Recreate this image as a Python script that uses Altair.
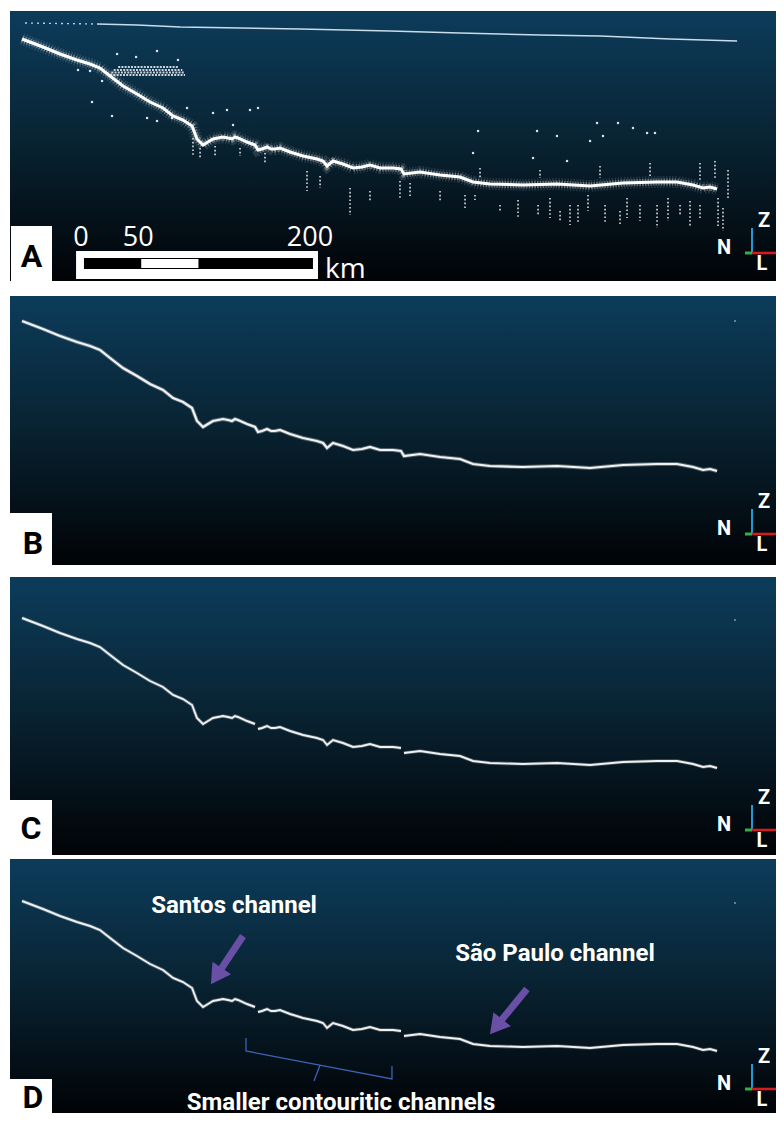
import altair as alt
import pandas as pd

# ---------------- data (distance along profile in km, depth in m) ----------------
PROFILE_KM = [0, 18.3, 33.2, 48.0, 59.4, 68.1, 76.9, 88.2, 100.4, 111.8, 123.1, 131.9, 140.6,
              148.5, 152.8, 158.1, 162.4, 166.8, 171.2, 175.5, 179.9, 183.4, 186.0, 188.6, 196.5, 203.5,
              206.1, 209.6, 214.0, 217.5, 221.0, 225.3, 234.1, 245.4, 257.6, 262.9, 266.4, 271.6,
              280.3, 289.1, 296.9, 303.9, 312.7, 324.0, 331.0,
              333.6, 347.6, 365.1, 382.5, 393.9, 408.7, 437.5, 467.2, 496.1, 524.9, 554.6, 572.1,
              586.0, 594.8, 600.9, 607.0]
PROFILE_DEPTH_M = [340, 500, 640, 760, 840, 920, 1080, 1280, 1440, 1600, 1720, 1880, 1960,
                   2080, 2340, 2460, 2400, 2340, 2320, 2300, 2320, 2340, 2300, 2320, 2400, 2460,
                   2560, 2540, 2500, 2540, 2540, 2520, 2600, 2680, 2740, 2780, 2880, 2780,
                   2840, 2920, 2900, 2860, 2920, 2920, 2940,
                   3040, 3000, 3060, 3100, 3200, 3240, 3260, 3240, 3280, 3220, 3200, 3200,
                   3260, 3320, 3300, 3340]
PROFILE_SEGMENT = [1] * 26 + [2] * 19 + [3] * 16

SURFACE_KM = [2.6, 65.5, 100.4, 138.0, 242.8, 321.4, 382.5, 452.4, 504.8, 566.0, 624.5]
SURFACE_DEPTH_M = [20, 40, 60, 100, 140, 180, 220, 260, 280, 340, 380]

CLUSTER_KM_START = [77.0, 78.0, 80.0, 84.0]
CLUSTER_KM_END = [142.4, 142.0, 140.0, 137.0]
CLUSTER_DEPTH_M = [1060, 1010, 960, 900]

NOISE_KM = [83.0, 99.6, 117.9, 136.2, 48.9, 59.4, 69.9, 61.1, 78.6, 109.2, 117.9, 131.0, 144.1,
            199.1, 206.1, 166.8, 179.0, 184.3, 398.3, 449.8, 502.2, 520.5, 533.6, 545.9, 552.8,
            496.1, 507.4, 467.2, 446.3, 476.0, 393.9]
NOISE_DEPTH_M = [640, 700, 580, 760, 960, 980, 1180, 1600, 1880, 1920, 1980, 1920, 1720,
                 1760, 1720, 1820, 1760, 2060, 2180, 2180, 2020, 2020, 2120, 2220, 2220,
                 2380, 2280, 2280, 2720, 2780, 2620]

STREAK_KM = [149.3, 155.5, 168.6, 190.4, 212.2, 248.9, 260.3, 286.5, 303.9, 330.1, 338.9, 365.1,
             386.9, 395.6, 417.5, 433.2, 450.7, 461.1, 469.9, 478.6, 485.6, 494.3, 509.2, 522.3,
             528.4, 539.7, 554.6, 564.2, 574.7, 583.4, 592.1, 607.9, 612.2, 616.6,
             400.0, 452.4, 504.8, 548.5, 592.1, 605.2]
STREAK_TOP_M = [2320, 2520, 2480, 2520, 2620, 2980, 3080, 3320, 3380, 3180, 3220, 3380,
                3460, 3460, 3660, 3560, 3660, 3520, 3780, 3660, 3660, 3460, 3660, 3780,
                3520, 3660, 3660, 3520, 3660, 3580, 3660, 3520, 3720, 2960,
                2920, 2960, 2880, 2820, 2820, 2780]
STREAK_BOTTOM_M = [2660, 2720, 2680, 2680, 2820, 3380, 3320, 3860, 3580, 3520, 3480, 3580,
                   3720, 3560, 3780, 3920, 3860, 3920, 3980, 4060, 4020, 3780, 4020, 4080,
                   3920, 3980, 4120, 3980, 3860, 4080, 3920, 4080, 4180, 3520,
                   3120, 3120, 3120, 3120, 3160, 3160]

SCALE_START_KM = 54.1
SCALE_TICKS_KM = [0, 50, 200]
SCALE_OUTER_KM = [47.2, 258.5]
SCALE_UNIT_KM = 264.6

DOT_KM = 622.7
DOT_DEPTH_M = [None, 340, 380, 380]

LABELS_TEXT = ["Santos channel", "São Paulo channel", "Smaller contouritic channels"]
LABELS_KM = [185.2, 465.5, 278.6]
LABELS_DEPTH_M = [440, 1400, 4380]
ARROW_TAIL_KM = [193.0, 441.0]
ARROW_TAIL_M = [1040, 2100]
ARROW_HEAD_KM = [169.7, 414.0]
ARROW_HEAD_M = [1842, 2854]
ARROW_ANGLE = [214, 219]
BRACKET_KM = [195.6, 195.6, 323.1, 323.1]
BRACKET_M = [3080, 3340, 3900, 3640]
BRACKET_TICK_KM = [260.3, 255.0]
BRACKET_TICK_M = [3620, 3940]

PANEL_LETTERS = ["A", "B", "C", "D"]

# ---------------- layout / style ----------------
W = 766
X_DOMAIN = [-10.5, 658.5]
PANEL_HEIGHT = [270, 277, 286, 254]
PANEL_DEPTH_TOP = [-220, -320, -640, -500]
PANEL_DEPTH_BOTTOM = [5180, 5220, 5080, 4580]
BG_TOP = [0, 8, 8, 0]
BOX_TOP = [215, 225, 231, 220]
LETTER_X = [21.5, 23, 21, 23]
LETTER_BASE = [256, 266, 270, 249]
GLYPH_X = 742
GLYPH_CORNER = [242, 246, 261, 230]

BOLD_FONT = "Roboto"
BG_GRADIENT = {
    "gradient": "linear", "x1": 0, "y1": 0, "x2": 0, "y2": 1,
    "stops": [
        {"offset": 0, "color": "#0c3c5b"},
        {"offset": 0.45, "color": "#092535"},
        {"offset": 1, "color": "#010306"},
    ],
}
PURPLE = "#6a4fa6"

ONE = pd.DataFrame({"k": [0]})
profile = pd.DataFrame({"km": PROFILE_KM, "depth": PROFILE_DEPTH_M, "seg": PROFILE_SEGMENT})


def X(field="km"):
    return alt.X(f"{field}:Q", scale=alt.Scale(domain=X_DOMAIN, nice=False, zero=False), axis=None)


def Y(i, field="depth"):
    return alt.Y(f"{field}:Q",
                 scale=alt.Scale(domain=[PANEL_DEPTH_TOP[i], PANEL_DEPTH_BOTTOM[i]],
                                 reverse=True, nice=False, zero=False),
                 axis=None)


def panel(i):
    h = PANEL_HEIGHT[i]
    L = []
    L.append(alt.Chart(ONE).mark_rect(fill=BG_GRADIENT).encode(
        x=alt.value(0), x2=alt.value(W), y=alt.value(BG_TOP[i]), y2=alt.value(h)))

    if i == 0:
        surf = pd.DataFrame({"km": SURFACE_KM, "depth": SURFACE_DEPTH_M})
        L.append(alt.Chart(surf.iloc[:2]).mark_line(color="#b8d0e0", strokeWidth=1.4, strokeDash=[2, 4]).encode(x=X(), y=Y(i)))
        L.append(alt.Chart(surf.iloc[1:]).mark_line(color="#c8dce9", strokeWidth=1.6).encode(x=X(), y=Y(i)))
        cl = pd.DataFrame({"km": CLUSTER_KM_START, "km2": CLUSTER_KM_END, "depth": CLUSTER_DEPTH_M})
        L.append(alt.Chart(cl).mark_rule(color="white", strokeWidth=2.0, strokeDash=[2, 1.2], opacity=0.8).encode(
            x=X(), x2=alt.X2("km2:Q"), y=Y(i)))
        L.append(alt.Chart(profile).mark_line(color="white", strokeWidth=12, opacity=0.12, strokeDash=[1.5, 1.5]).encode(x=X(), y=Y(i)))
        L.append(alt.Chart(profile).mark_line(color="white", strokeWidth=7, opacity=0.35, strokeDash=[1.5, 1.2]).encode(x=X(), y=Y(i)))
        L.append(alt.Chart(profile).mark_line(color="white", strokeWidth=3).encode(x=X(), y=Y(i)))
        st = pd.DataFrame({"km": STREAK_KM, "depth": STREAK_TOP_M, "d2": STREAK_BOTTOM_M})
        L.append(alt.Chart(st).mark_rule(color="white", strokeWidth=1.7, strokeDash=[1.6, 2.2], opacity=0.8).encode(
            x=X(), y=Y(i), y2=alt.Y2("d2:Q")))
        nz = pd.DataFrame({"km": NOISE_KM, "depth": NOISE_DEPTH_M})
        L.append(alt.Chart(nz).mark_square(size=5, color="white", opacity=0.85).encode(x=X(), y=Y(i)))
        L.append(alt.Chart(pd.DataFrame({"km": [SCALE_OUTER_KM[0]], "km2": [SCALE_OUTER_KM[1]]})).mark_rect(color="white").encode(
            x=X(), x2=alt.X2("km2:Q"), y=alt.value(240), y2=alt.value(268)))
        L.append(alt.Chart(pd.DataFrame({"km": [SCALE_START_KM], "km2": [SCALE_START_KM + SCALE_TICKS_KM[-1]]})).mark_rect(color="black").encode(
            x=X(), x2=alt.X2("km2:Q"), y=alt.value(247), y2=alt.value(258)))
        L.append(alt.Chart(pd.DataFrame({"km": [SCALE_START_KM + SCALE_TICKS_KM[1]], "km2": [SCALE_START_KM + 2 * SCALE_TICKS_KM[1]]})).mark_rect(color="white").encode(
            x=X(), x2=alt.X2("km2:Q"), y=alt.value(248), y2=alt.value(257)))
        sl = pd.DataFrame({"km": [SCALE_START_KM + v - 2.6 for v in SCALE_TICKS_KM], "lab": [str(v) for v in SCALE_TICKS_KM]})
        L.append(alt.Chart(sl).mark_text(color="white", font="Open Sans", fontSize=27, baseline="alphabetic").encode(
            x=X(), y=alt.value(235), text="lab:N"))
        L.append(alt.Chart(pd.DataFrame({"km": [SCALE_UNIT_KM], "lab": ["km"]})).mark_text(
            color="white", font="Open Sans", fontSize=28, align="left", baseline="alphabetic").encode(
            x=X(), y=alt.value(267), text="lab:N"))
    elif i == 1:
        L.append(alt.Chart(profile).mark_line(color="white", strokeWidth=4, opacity=0.3).encode(x=X(), y=Y(i)))
        L.append(alt.Chart(profile).mark_line(color="#f2f2f2", strokeWidth=2.2).encode(x=X(), y=Y(i)))
    else:
        L.append(alt.Chart(profile).mark_line(color="white", strokeWidth=3.6, opacity=0.25).encode(
            x=X(), y=Y(i), detail="seg:N"))
        L.append(alt.Chart(profile).mark_line(color="#f0f0f0", strokeWidth=1.9).encode(
            x=X(), y=Y(i), detail="seg:N"))

    if DOT_DEPTH_M[i] is not None:
        L.append(alt.Chart(pd.DataFrame({"km": [DOT_KM], "depth": [DOT_DEPTH_M[i]]})).mark_square(
            size=3, color="#cfd8dc").encode(x=X(), y=Y(i)))

    if i == 3:
        ar = pd.DataFrame({"km": ARROW_TAIL_KM + ARROW_HEAD_KM, "depth": ARROW_TAIL_M + ARROW_HEAD_M,
                           "arrow": [0, 1, 0, 1]})
        L.append(alt.Chart(ar).mark_line(color=PURPLE, strokeWidth=7, strokeCap="butt").encode(
            x=X(), y=Y(i), detail="arrow:N"))
        for k in range(2):
            L.append(alt.Chart(pd.DataFrame({"km": [ARROW_HEAD_KM[k]], "depth": [ARROW_HEAD_M[k]]})).mark_point(
                shape="triangle-up", size=500, filled=True, color=PURPLE, opacity=1,
                angle=ARROW_ANGLE[k]).encode(x=X(), y=Y(i)))
        br = pd.DataFrame({"km": BRACKET_KM, "depth": BRACKET_M, "o": [0, 1, 2, 3]})
        L.append(alt.Chart(br).mark_line(color="#3d62b8", strokeWidth=1.3).encode(
            x=X(), y=Y(i), order="o:Q"))
        tk = pd.DataFrame({"km": BRACKET_TICK_KM, "depth": BRACKET_TICK_M})
        L.append(alt.Chart(tk).mark_line(color="#3d62b8", strokeWidth=1.3).encode(x=X(), y=Y(i)))
        lab = pd.DataFrame({"km": LABELS_KM, "depth": LABELS_DEPTH_M, "t": LABELS_TEXT})
        L.append(alt.Chart(lab).mark_text(color="white", font=BOLD_FONT, fontWeight="bold", fontSize=24,
                                          baseline="middle").encode(x=X(), y=Y(i), text="t:N"))

    L.append(alt.Chart(ONE).mark_rect(color="white").encode(
        x=alt.value(0 if i else 1), x2=alt.value(42), y=alt.value(BOX_TOP[i]), y2=alt.value(h)))
    L.append(alt.Chart(ONE).mark_text(text=PANEL_LETTERS[i], color="black", font=BOLD_FONT, fontWeight="bold",
                                      fontSize=32, baseline="alphabetic").encode(
        x=alt.value(LETTER_X[i]), y=alt.value(LETTER_BASE[i])))

    c = GLYPH_CORNER[i]
    g = GLYPH_X
    L.append(alt.Chart(ONE).mark_rule(color="#1f9ad6", strokeWidth=2).encode(
        x=alt.value(g), y=alt.value(c - 25), y2=alt.value(c)))
    L.append(alt.Chart(ONE).mark_rule(color="#d11d1d", strokeWidth=2.6).encode(
        x=alt.value(g), x2=alt.value(g + 24), y=alt.value(c)))
    L.append(alt.Chart(ONE).mark_rule(color="#2bb34a", strokeWidth=3).encode(
        x=alt.value(g - 7), x2=alt.value(g), y=alt.value(c)))
    for t, dx, dy in [("Z", 12, -32), ("N", -28, -5), ("L", 10, 11)]:
        L.append(alt.Chart(ONE).mark_text(text=t, color="white", font=BOLD_FONT, fontWeight="bold",
                                          fontSize=20, baseline="middle").encode(
            x=alt.value(g + dx), y=alt.value(c + dy)))

    return alt.layer(*L).properties(width=W, height=h)


chart = alt.vconcat(*[panel(i) for i in range(4)], spacing=4).properties(
    padding={"left": -10, "top": 3, "right": -2, "bottom": 0},
    background="white",
).configure_view(strokeWidth=0)

chart.save("out.html", embed_options={"renderer": "svg", "actions": False})
